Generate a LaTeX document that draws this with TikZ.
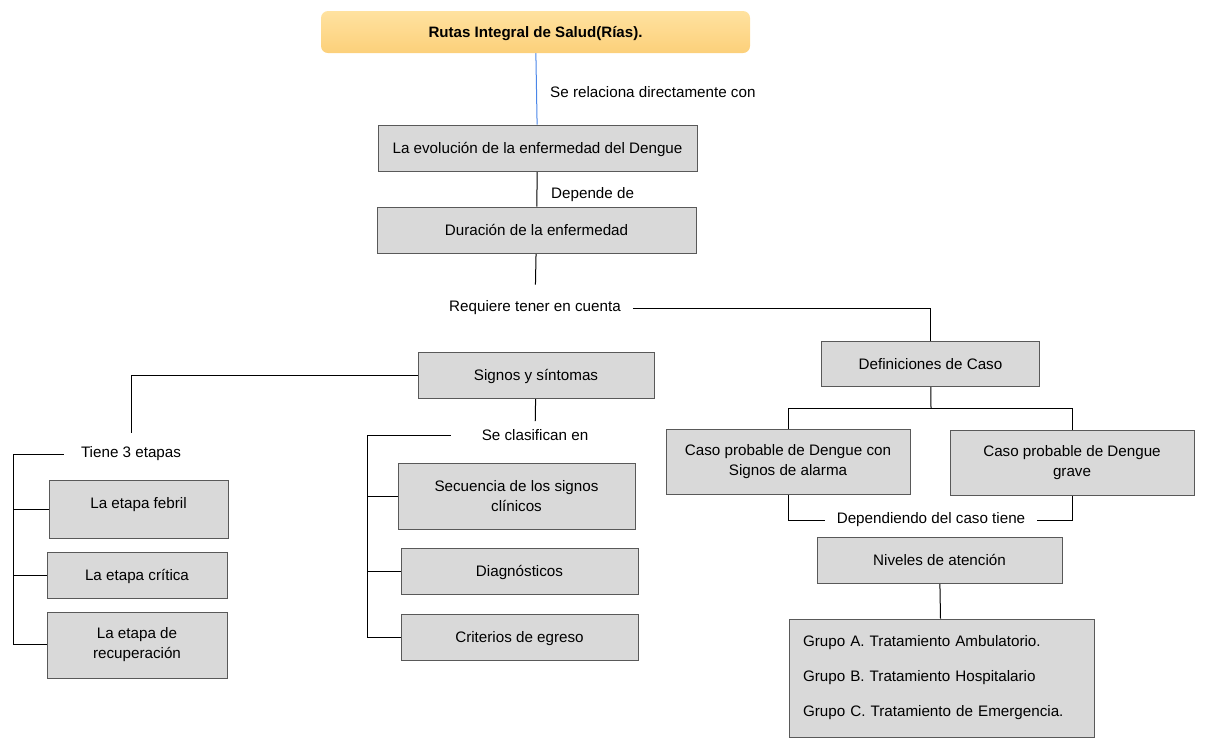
\documentclass[tikz,border=0pt]{standalone}
\usepackage{fontspec}
\setmainfont{Liberation Sans}
\usepackage[svgnames]{xcolor}
\usepackage{tikz}
\usetikzlibrary{arrows}
\pgfdeclarelayer{edgelayer}
\pgfdeclarelayer{nodelayer}
\pgfsetlayers{edgelayer,nodelayer,main}
\definecolor{boxfill}{RGB}{217,217,217}
\definecolor{boxline}{RGB}{89,89,89}
\definecolor{linkblue}{RGB}{74,134,232}
\definecolor{titletop}{RGB}{255,226,160}
\definecolor{titlebot}{RGB}{252,208,122}
\tikzset{
	grey box/.style={rectangle, draw=boxline, fill=boxfill, line width=1pt, align=center, inner sep=0pt, font=\fontsize{15.2}{20}\selectfont},
	one line/.style={text height=14pt, text depth=3pt},
	title box/.style={rectangle, rounded corners=7pt, top color=titletop, bottom color=titlebot, text height=14pt, text depth=3pt, font=\bfseries\fontsize{15.1}{18}\selectfont},
	caption text/.style={inner xsep=12pt, inner ysep=10pt, font=\fontsize{15.2}{18}\selectfont},
	link/.style={draw=black, line width=1pt},
	blue link/.style={draw=linkblue, line width=1pt}
}

\begin{document}
\begin{tikzpicture}[x=1pt, y=-1pt]
	\useasboundingbox (0, 0) rectangle (1206, 748);
							\begin{pgfonlayer}{nodelayer}
								\node [style=title box, minimum width=429pt, minimum height=42pt] (0) at (535.5, 32) {Rutas Integral de Salud(Rías).};
								\node [style=caption text, anchor=west, inner xsep=0pt] (1) at (550, 92) {Se relaciona directamente con};
								\node [style=grey box, style=one line, minimum width=319pt, minimum height=46pt] (2) at (537.5, 148) {La evolución de la enfermedad del Dengue};
								\node [style=caption text, anchor=west, inner xsep=0pt] (3) at (551, 195) {Depende de};
								\node [style=grey box, style=one line, minimum width=319pt, minimum height=46pt] (4) at (536.5, 230) {Duración de la enfermedad};
								\node [style=caption text, inner ysep=16pt] (5) at (535, 308) {Requiere tener en cuenta};
								\node [style=caption text, inner xsep=17pt, inner ysep=14pt] (9) at (131, 454) {Tiene 3 etapas};
								\node [style=caption text, inner xsep=31pt, inner ysep=8pt] (10) at (535, 435) {Se clasifican en};
								\node [style=grey box, style=one line, minimum width=236pt, minimum height=46pt] (11) at (536, 375) {Signos y síntomas};
								\node [style=grey box, style=one line, minimum width=179pt, minimum height=58pt, text depth=15pt] (12) at (138.5, 509) {La etapa febril};
								\node [style=grey box, style=one line, minimum width=180pt, minimum height=46pt] (13) at (137, 575) {La etapa crítica};
								\node [style=grey box, minimum width=180pt, minimum height=66pt] (14) at (137, 645) {La etapa de\\recuperación};
								\node [style=grey box, minimum width=237pt, minimum height=66pt] (15) at (516.5, 496) {Secuencia de los signos\\clínicos};
								\node [style=grey box, style=one line, minimum width=237pt, minimum height=46pt] (16) at (519.5, 571) {Diagnósticos};
								\node [style=grey box, style=one line, minimum width=237pt, minimum height=46pt] (17) at (519.5, 637) {Criterios de egreso};
								\node [style=grey box, style=one line, minimum width=218pt, minimum height=45pt] (18) at (930.5, 363.5) {Definiciones de Caso};
								\node [style=grey box, minimum width=244pt, minimum height=65pt] (19) at (788, 462) {Caso probable de Dengue con\\Signos de alarma};
								\node [style=grey box, minimum width=244pt, minimum height=65pt] (20) at (1072, 463) {Caso probable de Dengue\\grave};
								\node [style=caption text, inner ysep=4pt] (21) at (931, 520) {Dependiendo del caso tiene};
								\node [style=grey box, style=one line, minimum width=245pt, minimum height=46pt] (22) at (939.5, 560) {Niveles de atención};
								\node [style=grey box, minimum width=305pt, minimum height=118pt, text width=277pt, align=left, font=\fontsize{15.2}{35}\selectfont] (23) at (941.5, 678) {Grupo A. Tratamiento Ambulatorio.\\Grupo B. Tratamiento Hospitalario\\Grupo C. Tratamiento de Emergencia.};
								\coordinate (24) at (13, 644);
								\coordinate (25) at (367, 637);
								\coordinate (26) at (931, 408);
							\end{pgfonlayer}
							\begin{pgfonlayer}{edgelayer}
								\draw [style=blue link] (0) to (2);
								\draw [style=link] (2) to (4);
								\draw [style=link] (4) to (5);
								\draw [style=link] (5.east) -| (18.north);
								\draw [style=link] (11.west) -| (9.north);
								\draw [style=link] (11) to (10);
								\draw [style=link] (9.west) -| (24) -- (24 -| 14.west);
								\draw [style=link] (24 |- 12.west) to (12.west);
								\draw [style=link] (24 |- 13.west) to (13.west);
								\draw [style=link] (10.west) -| (25) -- (17.west);
								\draw [style=link] (25 |- 15.west) to (15.west);
								\draw [style=link] (25 |- 16.west) to (16.west);
								\draw [style=link] (18) to (26);
								\draw [style=link] (19.north) |- (26) -| (20.north);
								\draw [style=link] (19.south) |- (21.west);
								\draw [style=link] (20.south) |- (21.east);
								\draw [style=link] (22) to (23);
							\end{pgfonlayer}
						\end{tikzpicture}
\end{document}
